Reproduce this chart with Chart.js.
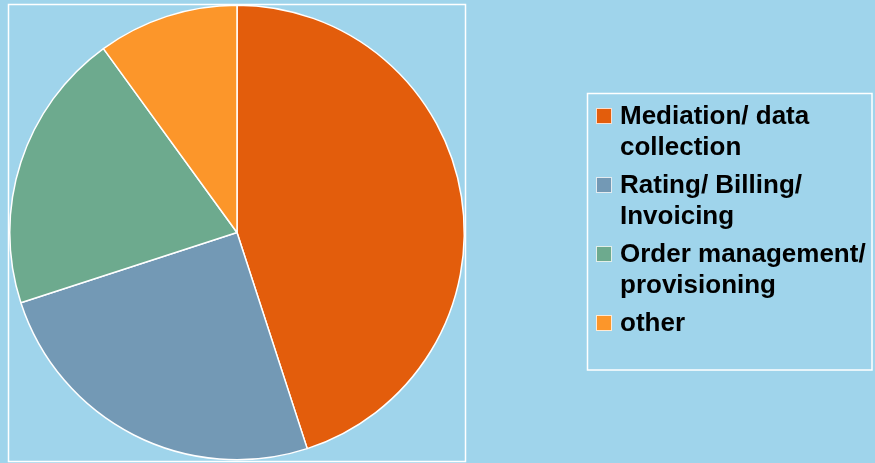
<!DOCTYPE html>
<html>
<head>
<meta charset="utf-8">
<script src="https://cdn.jsdelivr.net/npm/chart.js@4/dist/chart.umd.min.js"></script>
<style>
  html, body { margin: 0; padding: 0; background: #9FD4EB; }
  #wrap { position: relative; width: 875px; height: 463px; }
</style>
</head>
<body>
<div id="wrap"><canvas id="c" width="875" height="463"></canvas></div>
<script>
const categories = [
  ["Mediation/ data", "collection"],
  ["Rating/ Billing/", "Invoicing"],
  ["Order management/", "provisioning"],
  ["other"]
];
const values = [45, 25, 20, 10];
const colors = ["#E35D0C", "#7399B5", "#6DAA8E", "#FC962A"];

const frames = {
  id: "frames",
  beforeDraw(chart) {
    const ctx = chart.ctx;
    ctx.save();
    ctx.fillStyle = "#9FD4EB";
    ctx.fillRect(0, 0, chart.width, chart.height);
    ctx.strokeStyle = "#FFFFFF";
    ctx.lineWidth = 1.5;
    ctx.strokeRect(8.5, 4.5, 457, 457);
    ctx.strokeRect(587.5, 93.5, 284.5, 276.5);
    ctx.restore();
  },
  afterDraw(chart) {
    const ctx = chart.ctx;
    ctx.save();
    ctx.font = "bold 26px 'Liberation Sans', Arial, sans-serif";
    ctx.textBaseline = "alphabetic";
    ctx.fillStyle = "#000000";
    let y = 124;
    const lineH = 31, gap = 38;
    const labels = chart.data.labels;
    const bg = chart.data.datasets[0].backgroundColor;
    labels.forEach((lines, i) => {
      ctx.fillStyle = bg[i];
      ctx.fillRect(596, y - 16, 16, 16);
      ctx.strokeStyle = "rgba(255,255,255,0.8)";
      ctx.lineWidth = 1;
      ctx.strokeRect(596.5, y - 15.5, 15, 15);
      ctx.fillStyle = "#000000";
      lines.forEach((t, j) => ctx.fillText(t, 620, y + j * lineH));
      y += (lines.length - 1) * lineH + gap;
    });
    ctx.restore();
  }
};

new Chart(document.getElementById("c"), {
  type: "pie",
  data: {
    labels: categories,
    datasets: [{
      data: values,
      backgroundColor: colors,
      borderColor: "#FFFFFF",
      borderWidth: 1.5
    }]
  },
  options: {
    responsive: false,
    animation: false,
    layout: { padding: { left: 9, top: 4, right: 410, bottom: 2 } },
    plugins: {
      legend: { display: false },
      tooltip: { enabled: false }
    }
  },
  plugins: [frames]
});
</script>
</body>
</html>
